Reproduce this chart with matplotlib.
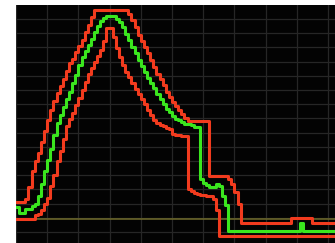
import matplotlib
matplotlib.use("Agg")
import matplotlib.pyplot as plt
from matplotlib.ticker import MultipleLocator
import numpy as np

# sample index (one step = 1/10 of a horizontal division)
samples = list(range(104))

green = [25, 19.5, 19.5, 23, 23, 26, 28, 36.5, 48, 61.5,
         72.5, 83, 97, 109, 117, 125, 133, 140.5, 149, 157.5,
         167, 175, 181, 187.5, 193.5, 200, 206, 211, 214.5, 216,
         216, 216, 213.5, 210, 205, 198.5, 192, 185.5, 179, 172.5,
         166, 160, 154.5, 149.5, 144, 138.5, 133.5, 128.5, 123.5, 120,
         116, 113.5, 112, 110, 108.5, 108, 107, 105.5, 105, 53,
         49, 47, 45.5, 45.5, 48.5, 46, 36, 27] + [1.5] * 23 + [9] + [1.5] * 12

red_upper = [30.3, 30.3, 30.3, 33, 45, 61, 71.5, 79.5, 90.5, 101.5,
             112, 122.5, 131, 139, 146.5, 153.5, 161, 169, 173.5, 180,
             186, 192.5, 200, 207.5, 215, 222] + [222] * 10 + \
            [218.5, 212, 205, 197.5, 191, 185, 179, 172.5, 165, 158.5,
             153, 147, 140.5, 135, 130, 126, 122, 118, 114, 111.5] + [111] * 6 + \
            [56] * 6 + [53, 48, 40, 28] + [9.3] * 16 + [14.3] * 7 + [9.3] * 9

red_lower = [13] * 6 + \
            [17, 18, 22, 28.5, 34.5, 46, 57.5, 71, 81, 93.5,
             106.5, 113, 119.5, 127, 134.5, 142.5, 150.5, 158, 164.5, 170,
             176.5, 182.5, 191.5, 204, 204, 195, 184, 175, 167, 160.5,
             155, 149, 143.5, 138.5, 133, 128, 122.5, 117, 112.5, 109.5,
             107.5, 106, 104.5, 103.5, 98, 97.5, 97, 96.5, 96, 43,
             41, 39.5, 38, 37.5, 37, 36.5, 36, 33, 22] + [-4] * 39

reference_level = 13.5

fig = plt.figure(figsize=(3.35, 2.43), dpi=100, facecolor="white")
ax = fig.add_axes([16 / 335, 0, 319 / 335, 238 / 243])
ax.set_facecolor("#030303")
ax.set_xlim(0, 102.24)
ax.set_ylim(-11, 227)

ax.xaxis.set_major_locator(MultipleLocator(10))
ax.yaxis.set_major_locator(MultipleLocator(14.2))
ax.grid(True, color="#262626", linewidth=0.9)
ax.tick_params(left=False, bottom=False, labelleft=False, labelbottom=False)
for s in ax.spines.values():
    s.set_visible(False)

ax.axhline(reference_level, color="#6f6a2a", linewidth=1.1, zorder=2)
ax.plot(samples, red_upper, drawstyle="steps-post", color="#f23b1e", linewidth=2.2, zorder=3)
ax.plot(samples, red_lower, drawstyle="steps-post", color="#f23b1e", linewidth=2.2, zorder=3)
ax.plot(samples, green, drawstyle="steps-post", color="#3ae61e", linewidth=2.2, zorder=4)

fig.savefig("out.png", dpi=100, facecolor="white")
